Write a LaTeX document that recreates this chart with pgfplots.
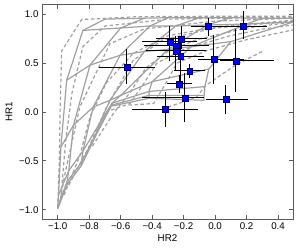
\documentclass[border=0pt]{standalone}
\usepackage{fontspec}
\setmainfont{Liberation Sans}
\usepackage{pgfplots}
\pgfplotsset{compat=1.18}
\definecolor{gridgray}{RGB}{160,160,160}
\definecolor{framegray}{RGB}{90,90,90}
\begin{document}
\begin{tikzpicture}
\useasboundingbox (-42bp,-31bp) rectangle (258bp,219bp);
\begin{axis}[
  scale only axis, width=251bp, height=214bp,
  xmin=-1.1, xmax=0.495, ymin=-1.095, ymax=1.095,
  xtick={-1,-0.8,-0.6,-0.4,-0.2,0,0.2,0.4},
  xticklabels={−1.0,−0.8,−0.6,−0.4,−0.2,0.0,0.2,0.4},
  ytick={-1,-0.5,0,0.5,1},
  yticklabels={−1.0,−0.5,0.0,0.5,1.0},
  tick align=inside, xtick pos=both, ytick pos=both,
  major tick length=4bp,
  tick style={framegray, line width=0.8pt},
  axis line style={framegray, line width=1pt},
  tick label style={font=\fontsize{9.8}{11}\selectfont, text=black},
  label style={font=\fontsize{9.8}{11}\selectfont},
  xlabel={HR2}, ylabel={HR1},
  xlabel style={yshift=2bp},
  gs/.style={gridgray, line width=1.2pt, no marks},
  gd/.style={gridgray, line width=1.2pt, no marks, dash pattern=on 3.5pt off 2.5pt},
]
% solid rows
\addplot[gs] coordinates {(-1.00,-0.99) (-0.94,-0.74) (-0.85,-0.55) (-0.745,-0.20) (-0.66,0.06) (-0.42,0.14) (-0.07,0.12)};
\addplot[gs] coordinates {(-1.00,-0.97) (-0.94,-0.71) (-0.85,-0.52) (-0.745,-0.18) (-0.66,0.07) (-0.42,0.17) (-0.07,0.17)};
\addplot[gs] coordinates {(-0.995,-0.85) (-0.93,-0.60) (-0.84,-0.40) (-0.735,-0.12) (-0.655,0.09) (-0.42,0.21) (-0.065,0.26)};
\addplot[gs] coordinates {(-0.98,-0.36) (-0.90,-0.135) (-0.775,0.05) (-0.668,0.12) (-0.60,0.17) (-0.40,0.31) (-0.04,0.44)};
\addplot[gs] coordinates {(-0.943,0.325) (-0.795,0.48) (-0.604,0.58) (-0.45,0.62) (-0.30,0.64) (-0.15,0.67) (0.10,0.72)};
\addplot[gs] coordinates {(-0.84,0.835) (-0.60,0.86) (-0.414,0.88) (-0.25,0.88) (-0.05,0.89) (0.20,0.90) (0.495,0.92)};
\addplot[gs] coordinates {(-0.70,0.95) (-0.45,0.96) (-0.30,0.965) (-0.10,0.965) (0.10,0.965) (0.30,0.96) (0.495,0.96)};
% solid columns
\addplot[gs] coordinates {(-1.00,-0.99) (-1.00,-0.97) (-0.995,-0.85) (-0.98,-0.36) (-0.943,0.325) (-0.84,0.835) (-0.70,0.95)};
\addplot[gs] coordinates {(-0.94,-0.74) (-0.94,-0.71) (-0.93,-0.60) (-0.90,-0.135) (-0.795,0.48) (-0.60,0.86) (-0.45,0.96)};
\addplot[gs] coordinates {(-0.85,-0.55) (-0.85,-0.52) (-0.84,-0.40) (-0.775,0.05) (-0.604,0.58) (-0.414,0.88) (-0.30,0.965)};
\addplot[gs] coordinates {(-0.745,-0.20) (-0.745,-0.18) (-0.735,-0.12) (-0.668,0.12) (-0.45,0.62) (-0.25,0.88) (-0.10,0.965)};
\addplot[gs] coordinates {(-0.66,0.06) (-0.66,0.07) (-0.655,0.09) (-0.60,0.17) (-0.30,0.64) (-0.05,0.89) (0.10,0.965)};
\addplot[gs] coordinates {(-0.42,0.14) (-0.42,0.17) (-0.42,0.21) (-0.40,0.31) (-0.15,0.67) (0.20,0.90) (0.30,0.96)};
\addplot[gs] coordinates {(-0.07,0.12) (-0.07,0.17) (-0.065,0.26) (-0.04,0.44) (0.10,0.72) (0.495,0.92)};
% dashed family
\addplot[gd] coordinates {(-1.00,-0.98) (-0.99,-0.5) (-0.985,0.0) (-0.975,0.625) (-0.848,0.946) (-0.5,0.975) (0.0,0.98) (0.495,0.98)};
\addplot[gd] coordinates {(-0.995,-0.97) (-0.98,-0.88) (-0.95,-0.30) (-0.91,0.19) (-0.84,0.67) (-0.70,0.88) (-0.30,0.95) (0.495,0.97)};
\addplot[gd] coordinates {(-0.99,-0.95) (-0.954,-0.63) (-0.86,0.05) (-0.668,0.70) (-0.45,0.85) (0.0,0.93) (0.495,0.96)};
\addplot[gd] coordinates {(-0.96,-0.85) (-0.86,-0.45) (-0.795,-0.05) (-0.69,0.30) (-0.52,0.60) (-0.30,0.78) (0.0,0.87) (0.495,0.94)};
\addplot[gd] coordinates {(-0.93,-0.75) (-0.80,-0.35) (-0.69,0.05) (-0.52,0.53) (-0.33,0.74) (0.0,0.86) (0.495,0.93)};
\addplot[gd] coordinates {(-0.78,-0.35) (-0.64,0.0) (-0.54,0.20) (-0.44,0.45) (-0.30,0.62) (-0.118,0.74) (0.2,0.86) (0.495,0.92)};
\addplot[gd] coordinates {(-0.66,0.02) (-0.54,0.087) (-0.45,0.30) (-0.37,0.50) (-0.20,0.64) (0.094,0.78) (0.305,0.85) (0.495,0.89)};
\addplot[gd] coordinates {(-0.55,0.07) (-0.39,0.087) (-0.30,0.33) (-0.244,0.50) (-0.05,0.63) (0.2,0.74) (0.495,0.84)};
\addplot[gd] coordinates {(-0.30,0.05) (-0.12,0.15) (-0.06,0.27) (0.02,0.36) (0.13,0.48) (0.30,0.62)};
% data
\addplot[only marks, mark=square*, mark size=2.9pt,
  mark options={fill=blue, draw=blue!40!black, line width=0.4pt},
  error bars/.cd, x dir=both, x explicit, y dir=both, y explicit,
  error mark=none, error bar style={black, line width=1pt}]
coordinates {
(-0.045,0.877) += (0.09,0.09) -= (0.11,0.095)
(0.178,0.88) += (0.15,0.15) -= (0.146,0.13)
(-0.287,0.717) += (0.17,0.16) -= (0.18,0.20)
(-0.213,0.748) += (0.16,0.13) -= (0.16,0.10)
(-0.249,0.676) += (0.21,0.10) -= (0.20,0.10)
(-0.249,0.625) += (0.19,0.10) -= (0.19,0.20)
(-0.219,0.571) += (0.15,0.15) -= (0.15,0.30)
(-0.008,0.537) += (0.19,0.25) -= (0.10,0.25)
(0.132,0.523) += (0.24,0.33) -= (0.10,0.32)
(-0.162,0.42) += (0.10,0.07) -= (0.10,0.07)
(-0.228,0.287) += (0.08,0.09) -= (0.08,0.09)
(-0.192,0.144) += (0.12,0.25) -= (0.27,0.25)
(0.069,0.128) += (0.14,0.15) -= (0.13,0.15)
(-0.317,0.029) += (0.21,0.18) -= (0.21,0.18)
(-0.56,0.46) += (0.176,0.18) -= (0.18,0.17)
};
\end{axis}
\end{tikzpicture}
\end{document}
